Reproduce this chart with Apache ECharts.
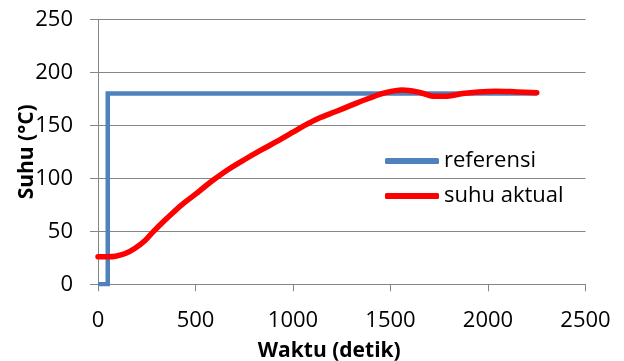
<!DOCTYPE html>
<html>
<head>
<meta charset="utf-8">
<script src="https://cdn.jsdelivr.net/npm/echarts@6/dist/echarts.min.js"></script>
<style>
html,body{margin:0;padding:0;background:#fff;}
#chart{width:624px;height:361px;}
</style>
</head>
<body>
<div id="chart"></div>
<script>
// Data
const seriesNames = ['referensi', 'suhu aktual'];
const refX = [0, 50, 50, 2250];
const refY = [0, 0, 180, 180];
const actX = [0, 50, 90, 140, 190, 240, 285, 340, 390, 440, 500, 550, 600, 670, 750, 840, 920, 1000, 1060, 1130, 1220, 1300, 1390, 1480, 1560, 1650, 1730, 1790, 1870, 1950, 2040, 2150, 2250];
const actY = [26, 26, 26.5, 29, 34, 41, 50, 60, 68.5, 76.5, 85, 92.5, 99.5, 108.5, 117.5, 127, 135, 143.5, 150, 156.5, 163, 169, 175.5, 181, 183.3, 181, 177.3, 177.5, 180, 181.5, 182.2, 181.5, 180.8];
const xTicks = [0, 500, 1000, 1500, 2000, 2500];
const yTicks = [0, 50, 100, 150, 200, 250];
const xTitle = 'Waktu (detik)';
const yTitle = 'Suhu (°C)';

const FONT = '"Open Sans", "Liberation Sans", sans-serif';
const chart = echarts.init(document.getElementById('chart'), null, {renderer: 'canvas'});
chart.setOption({
  animation: false,
  backgroundColor: '#ffffff',
  textStyle: {fontFamily: FONT},
  grid: {left: 98, right: 38.5, top: 19.3, bottom: 76.7, containLabel: false, outerBoundsMode: 'none'},
  legend: {
    data: seriesNames,
    orient: 'vertical',
    left: 385,
    top: 148,
    padding: 0,
    itemWidth: 54,
    itemHeight: 6,
    itemGap: 9,
    icon: 'roundRect',
    textStyle: {fontFamily: FONT, fontSize: 22, color: '#000', lineHeight: 26}
  },
  xAxis: {
    type: 'value',
    min: xTicks[0], max: xTicks[xTicks.length - 1], interval: xTicks[1] - xTicks[0],
    name: xTitle,
    nameLocation: 'middle',
    nameGap: 56,
    nameMoveOverlap: false,
    nameTextStyle: {fontFamily: FONT, fontSize: 21, fontWeight: 'bold', color: '#000', padding: [0, 25, 0, 0]},
    axisLine: {show: true, lineStyle: {color: '#868686', width: 1}},
    axisTick: {show: true, length: 7, lineStyle: {color: '#868686'}},
    axisLabel: {fontFamily: FONT, fontSize: 22, color: '#000', margin: 25, formatter: v => String(v)},
    splitLine: {show: false}
  },
  yAxis: {
    type: 'value',
    min: yTicks[0], max: yTicks[yTicks.length - 1], interval: yTicks[1] - yTicks[0],
    name: yTitle,
    nameLocation: 'middle',
    nameGap: 60,
    nameMoveOverlap: false,
    nameTextStyle: {fontFamily: FONT, fontSize: 21, fontWeight: 'bold', color: '#000'},
    axisLine: {show: true, lineStyle: {color: '#868686', width: 1}},
    axisTick: {show: true, length: 8, lineStyle: {color: '#868686'}},
    axisLabel: {fontFamily: FONT, fontSize: 22, color: '#000', margin: 25, formatter: v => String(v)},
    splitLine: {show: true, lineStyle: {color: '#868686', width: 1}}
  },
  series: [
    {
      name: seriesNames[0],
      type: 'line',
      data: refX.map((x, i) => [x, refY[i]]),
      showSymbol: false,
      symbol: 'none',
      itemStyle: {color: '#4F81BD'},
      lineStyle: {color: '#4F81BD', width: 4.5, join: 'miter'},
      z: 2
    },
    {
      name: seriesNames[1],
      type: 'line',
      data: actX.map((x, i) => [x, actY[i]]),
      smooth: 0.35,
      showSymbol: false,
      symbol: 'none',
      itemStyle: {color: '#FF0000'},
      lineStyle: {color: '#FF0000', width: 5.5, cap: 'round', join: 'round'},
      z: 3
    }
  ]
});
</script>
</body>
</html>
